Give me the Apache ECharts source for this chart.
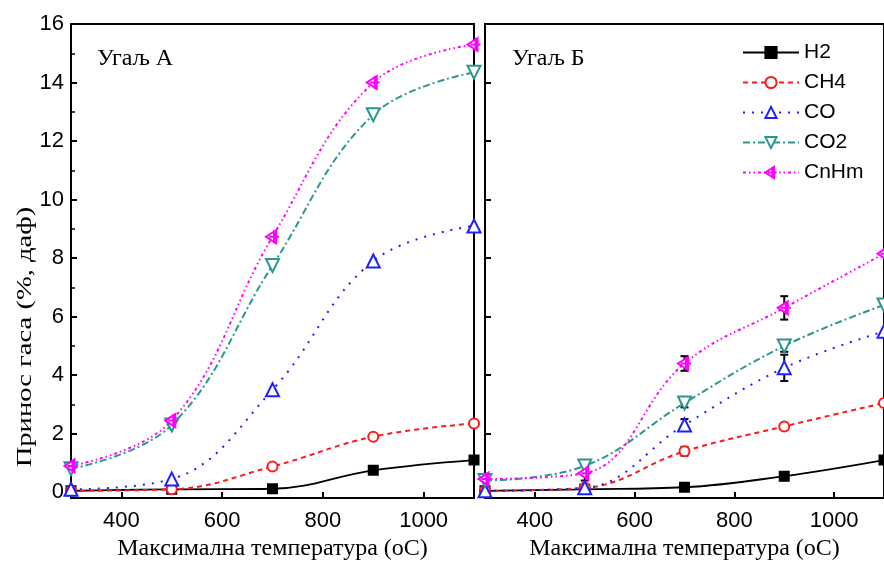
<!DOCTYPE html>
<html>
<head>
<meta charset="utf-8">
<script src="https://cdn.jsdelivr.net/npm/echarts@6/dist/echarts.min.js"></script>
<style>
html,body{margin:0;padding:0;background:#fff;overflow:hidden;}
#c{width:884px;height:566px;}
</style>
</head>
<body>
<div id="c"></div>
<script>
// ---- data ----
const temps = [300, 500, 700, 900, 1100];
const xTickValues = [400, 600, 800, 1000];
const yTickValues = [0, 2, 4, 6, 8, 10, 12, 14, 16];
const yMinorValues = [1, 3, 5, 7, 9, 11, 13, 15];
const seriesNames = ['H2', 'CH4', 'CO', 'CO2', 'CnHm'];

// Угаљ А
const h2A   = [0.05, 0.10, 0.12, 0.75, 1.10];
const ch4A  = [0.05, 0.10, 0.88, 1.90, 2.35];
const coA   = [0.10, 0.45, 3.50, 7.90, 9.10];
const co2A  = [0.80, 2.30, 7.75, 12.90, 14.35];
const cnhmA = [0.90, 2.45, 8.73, 14.00, 15.30];

// Угаљ Б
const h2B   = [0.05, 0.10, 0.17, 0.55, 1.10];
const ch4B  = [0.05, 0.15, 1.40, 2.25, 3.05];
const coB   = [0.05, 0.15, 2.30, 4.25, 5.50];
const co2B  = [0.40, 0.90, 3.05, 5.00, 6.40];
const cnhmB = [0.45, 0.65, 4.40, 6.30, 8.15];

// error bars (Угаљ Б)
const errH2B   = [0, 0.08, 0.05, 0.05, 0];
const errCH4B  = [0, 0.10, 0.15, 0.10, 0];
const errCOB   = [0, 0.10, 0.20, 0.45, 0];
const errCO2B  = [0, 0.20, 0.15, 0.20, 0];
const errCnHmB = [0, 0.25, 0.25, 0.40, 0];

const panelLabels = ['Угаљ А', 'Угаљ Б'];
const xName = 'Максимална температура (оС)';
const yName = 'Принос гаса (%, даф)';

// ---- styles ----
const styles = {
  'H2':   {color: '#000000', type: 'solid', width: 1.8, symbol: 'rect', size: 9, fill: '#000000', rot: 0},
  'CH4':  {color: '#ff1a1a', type: [5, 4], width: 2, symbol: 'circle', size: 10, fill: '#ffffff', rot: 0},
  'CO':   {color: '#1f1fff', type: [2, 7], width: 2, symbol: 'triangle', size: 13, fill: '#ffffff', rot: 0},
  'CO2':  {color: '#2a9890', type: [7, 3, 2, 3], width: 2, symbol: 'triangle', size: 13, fill: '#ffffff', rot: 180},
  'CnHm': {color: '#ff00ff', type: [3, 3, 1.5, 3, 1.5, 3], width: 2, symbol: 'path://M10,0 L0,5 L10,10 Z M3,5 L13,5 M8,0 L8,10', size: 13, fill: '#ffffff', rot: 0}
};

const dataA = {'H2': h2A, 'CH4': ch4A, 'CO': coA, 'CO2': co2A, 'CnHm': cnhmA};
const dataB = {'H2': h2B, 'CH4': ch4B, 'CO': coB, 'CO2': co2B, 'CnHm': cnhmB};
const errB  = {'H2': errH2B, 'CH4': errCH4B, 'CO': errCOB, 'CO2': errCO2B, 'CnHm': errCnHmB};

const tickFont = {fontFamily: 'Liberation Sans', fontSize: 22, color: '#000'};
const serif = 'Liberation Serif';

function lineSeries(name, arr, xi, yi) {
  const s = styles[name];
  return {
    name: name, type: 'line', xAxisIndex: xi, yAxisIndex: yi,
    data: temps.map((t, i) => [t, arr[i]]),
    smooth: 0.4,
    symbol: s.symbol, symbolSize: s.size, symbolRotate: s.rot,
    showAllSymbol: true,
    lineStyle: {color: s.color, type: s.type, width: s.width},
    itemStyle: {color: s.fill, borderColor: s.color, borderWidth: 2},
    emphasis: {disabled: true},
    z: 3
  };
}

function errSeries(name, vals, errs, xi, yi) {
  return {
    name: name, type: 'custom', xAxisIndex: xi, yAxisIndex: yi,
    data: temps.map((t, i) => [t, vals[i] - errs[i], vals[i] + errs[i]]).filter((d, i) => errs[i] > 0),
    renderItem: function (params, api) {
      const lo = api.coord([api.value(0), api.value(1)]);
      const hi = api.coord([api.value(0), api.value(2)]);
      const w = 4;
      const st = {stroke: '#000', lineWidth: 2};
      return {type: 'group', children: [
        {type: 'line', shape: {x1: lo[0], y1: lo[1], x2: hi[0], y2: hi[1]}, style: st},
        {type: 'line', shape: {x1: lo[0] - w, y1: lo[1], x2: lo[0] + w, y2: lo[1]}, style: st},
        {type: 'line', shape: {x1: hi[0] - w, y1: hi[1], x2: hi[0] + w, y2: hi[1]}, style: st}
      ]};
    },
    z: 2
  };
}

function xAxisDef(gi) {
  return {
    type: 'value', gridIndex: gi, min: 300, max: 1100,
    axisLine: {show: true, onZero: false, lineStyle: {color: '#000', width: 2}},
    axisTick: {show: true, inside: true, length: 6, customValues: xTickValues, lineStyle: {color: '#000', width: 2}},
    axisLabel: Object.assign({show: true, margin: 12, customValues: xTickValues, formatter: v => String(v)}, tickFont),
    splitLine: {show: false},
    name: xName, nameLocation: 'middle', nameGap: 36,
    nameTextStyle: {fontFamily: serif, fontSize: 24, color: '#000'}
  };
}

function yAxisDef(gi, labels) {
  return {
    type: 'value', gridIndex: gi, min: -0.2, max: 16, position: 'left',
    axisLine: {show: true, onZero: false, lineStyle: {color: '#000', width: 2}},
    axisTick: {show: true, inside: true, length: 6, customValues: yTickValues, lineStyle: {color: '#000', width: 2}},
    axisLabel: Object.assign({show: labels, margin: 7, customValues: yTickValues, formatter: v => String(v)}, tickFont),
    splitLine: {show: false}
  };
}

const series = [];
seriesNames.forEach(n => series.push(lineSeries(n, dataA[n], 0, 0)));
seriesNames.forEach(n => series.push(lineSeries(n, dataB[n], 1, 2)));
seriesNames.forEach(n => series.push(errSeries(n, dataB[n], errB[n], 1, 2)));

const chart = echarts.init(document.getElementById('c'), null, {renderer: 'canvas'});
chart.setOption({
  animation: false,
  backgroundColor: '#fff',
  grid: [
    {left: 71, top: 24, width: 403, height: 477, show: true, borderColor: '#000', borderWidth: 2, backgroundColor: 'transparent'},
    {left: 485, top: 24, width: 403, height: 477, show: true, borderColor: '#000', borderWidth: 2, backgroundColor: 'transparent'}
  ],
  xAxis: [xAxisDef(0), xAxisDef(1)],
  yAxis: [
    yAxisDef(0, true),
    {
      type: 'value', gridIndex: 0, min: -0.2, max: 16, position: 'left',
      axisLine: {show: false},
      axisTick: {show: true, inside: true, length: 4, customValues: yMinorValues, lineStyle: {color: '#000', width: 1.5}},
      axisLabel: {show: false}, splitLine: {show: false}
    },
    yAxisDef(1, false)
  ],
  legend: {
    data: seriesNames,
    orient: 'vertical', left: 737, top: 37,
    itemWidth: 56, itemHeight: 14, itemGap: 9,
    textStyle: {fontFamily: 'Liberation Sans', fontSize: 21, color: '#000', lineHeight: 21},
    backgroundColor: '#fff'
  },
  graphic: [
    {type: 'text', left: 97, top: 47, style: {text: panelLabels[0], font: '24px "Liberation Serif"', fill: '#000'}},
    {type: 'text', left: 512, top: 47, style: {text: panelLabels[1], font: '24px "Liberation Serif"', fill: '#000'}},
    {type: 'text', x: 25, y: 337, rotation: Math.PI / 2, scaleX: 1.3,
      style: {text: yName, font: '22px "Liberation Serif"', fill: '#000', align: 'center', verticalAlign: 'middle'}}
  ],
  series: series
});
</script>
</body>
</html>
